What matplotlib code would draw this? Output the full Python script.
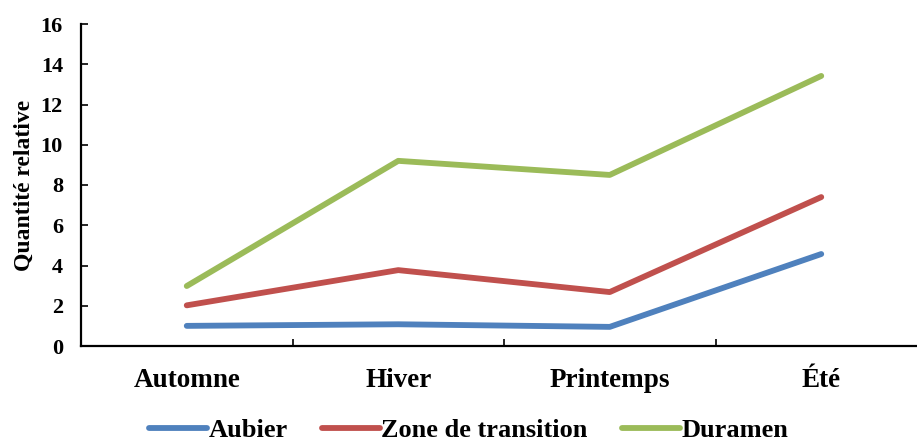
import matplotlib
matplotlib.use('Agg')
import matplotlib.pyplot as plt
import numpy as np

seasons = ['Automne', 'Hiver', 'Printemps', 'Été']
aubier = [1.0, 1.08, 0.95, 4.57]
transition = [2.02, 3.77, 2.68, 7.4]
duramen = [2.98, 9.2, 8.5, 13.42]

plt.rcParams['font.family'] = ['Liberation Serif', 'DejaVu Serif']
plt.rcParams['font.weight'] = 'bold'

fig = plt.figure(figsize=(9.17, 4.41), dpi=100)
ax = fig.add_axes([81 / 917, 1 - 346 / 441, 846 / 917, 322 / 441])

x = np.arange(len(seasons))
ax.plot(x, aubier, color='#4F81BD', lw=4.2, solid_capstyle='round', label='Aubier')
ax.plot(x, transition, color='#C0504D', lw=4.2, solid_capstyle='round', label='Zone de transition')
ax.plot(x, duramen, color='#9BBB59', lw=4.2, solid_capstyle='round', label='Duramen')

ax.set_xlim(-0.5, len(seasons) - 0.5)
ax.set_ylim(0, 16)
ax.set_yticks(range(0, 17, 2))
ax.set_xticks(x)
ax.set_xticklabels(seasons, fontsize=19.5, fontweight='bold')
ax.set_xticks(np.arange(-0.5, len(seasons), 1), minor=True)
ax.tick_params(axis='x', which='major', length=0, pad=16)
ax.tick_params(axis='x', which='minor', direction='in', length=5, width=1.2)
ax.tick_params(axis='y', direction='in', length=5, width=1.2, labelsize=16, pad=13)
for lbl in ax.get_yticklabels():
    lbl.set_fontweight('bold')
ax.set_ylabel('Quantité relative', fontsize=17, fontweight='bold')
ax.yaxis.set_label_coords(-0.054, 0.5)

for s in ['top', 'right']:
    ax.spines[s].set_visible(False)
for s in ['left', 'bottom']:
    ax.spines[s].set_linewidth(1.6)

fig.legend(loc='center', bbox_to_anchor=(468.5 / 917, 1 - 430 / 441), ncol=3, frameon=False,
           prop={'size': 19, 'weight': 'bold'}, handlelength=2.2, handletextpad=0.05,
           columnspacing=1.3, borderpad=0)

fig.savefig('out.png', dpi=100)
